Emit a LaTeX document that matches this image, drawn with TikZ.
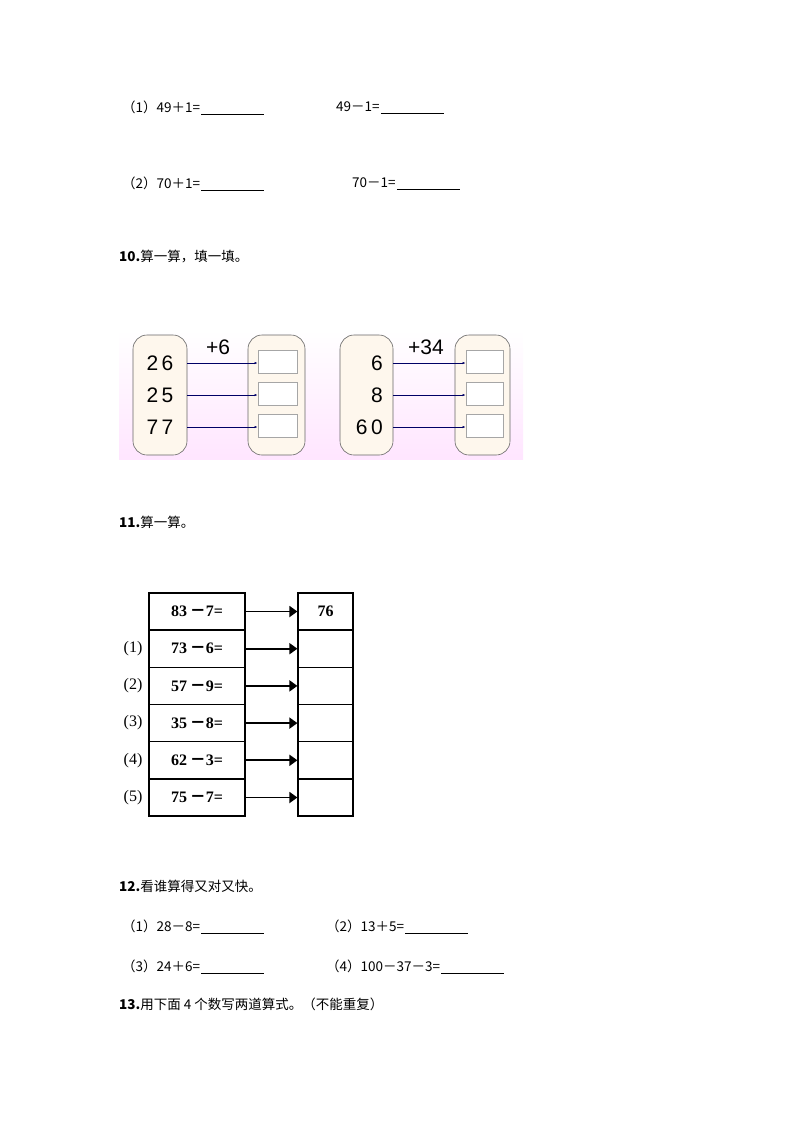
\documentclass[tikz,border=0pt]{standalone}
\usepackage{fontspec}
\setmainfont{Liberation Serif}
\newfontfamily\cjk{Noto Sans CJK SC}
\newfontfamily\sansf{Liberation Sans}
\usetikzlibrary{arrows.meta}
\begin{document}
\begin{tikzpicture}[x=1pt,y=-1pt,
  txt/.style={anchor=west,inner sep=0,font=\cjk\fontsize{13.5}{16}\selectfont},
  ul/.style={line width=0.8pt},
  pill/.style={draw=black!60,fill=yellow!8!orange!6,rounded corners=14pt,line width=0.6pt},
  ansbox/.style={draw=black!35,fill=white,line width=0.8pt},
  big/.style={font=\sansf\fontsize{21}{24}\selectfont,inner sep=0},
  thin/.style={draw=black!60!blue,line width=0.5pt,-{Latex[length=3pt]}},
  cell/.style={draw,line width=1.2pt,minimum height=37pt,inner sep=0,font=\fontsize{16}{18}\selectfont\bfseries},
  tarr/.style={line width=1.8pt,-{Triangle[length=8pt,width=11pt]}},
  lab/.style={font=\fontsize{16}{18}\selectfont,inner sep=0}]
\useasboundingbox (0,0) rectangle (793,1122);
% top
\node[txt] (a1) at (122,107) {（1）49＋1=};
\draw[ul] (a1.base east) ++(1,2) -- ++(63,0);
\node[txt] (a2) at (336,107) {49－1=};
\draw[ul] (a2.base east) ++(1,2) -- ++(63,0);
\node[txt] (a3) at (122,183) {（2）70＋1=};
\draw[ul] (a3.base east) ++(1,2) -- ++(63,0);
\node[txt] (a4) at (352,183) {70－1=};
\draw[ul] (a4.base east) ++(1,2) -- ++(63,0);
\node[txt] (q10) at (119,257) {\textbf{10.}算一算，填一填。};
% picture
\shade[top color=white,bottom color=magenta!10] (119,330) rectangle (523,459);
\draw[pill] (133,335) rectangle (187,455);
\draw[pill] (248,335) rectangle (305,455);
\draw[pill] (340,335) rectangle (393,455);
\draw[pill] (455,335) rectangle (510,455);
\node[big] (p6) at (218,347) {+6};
\node[big] (p34) at (426,347) {+34};
\foreach \y/\a/\b [count=\i] in {363/2\,6/6,395/2\,5/8,427/7\,7/6\,0}{
  \node[big] (L\i) at (160,\y) {\a};
  \node[big,anchor=east] (R\i) at (383,\y) {\b};
  \node[ansbox,minimum width=39pt,minimum height=23pt] (B\i) at (277.5,\y-1) {};
  \node[ansbox,minimum width=37pt,minimum height=23pt] (C\i) at (484.5,\y-1) {};
  \draw[thin] (187,\y) -- (B\i.west|-0,\y);
  \draw[thin] (393,\y) -- (C\i.west|-0,\y);
}
\node[txt] (q11) at (119,522) {\textbf{11.}算一算。};
% table
\foreach \t/\r [count=\i from 0] in {{83\,{\cjk －}7=}/76,{73\,{\cjk －}6=}/,{57\,{\cjk －}9=}/,{35\,{\cjk －}8=}/,{62\,{\cjk －}3=}/,{75\,{\cjk －}7=}/}{
  \pgfmathsetmacro\yc{611.5+37.2*\i}
  \node[cell,minimum width=96pt] (E\i) at (197,\yc) {\t};
  \node[cell,minimum width=55pt] (F\i) at (325.5,\yc) {\r};
  \draw[tarr] (E\i.east) ++(0,0) -- (F\i.west|-0,\yc);
}
\foreach \i in {1,...,5}{\node[lab] (N\i) at (133,611.5+37.2*\i) {(\i)};}
\node[txt] (q12) at (119,886) {\textbf{12.}看谁算得又对又快。};
\node[txt] (b1) at (122,926) {（1）28－8=};
\draw[ul] (b1.base east) ++(1,2) -- ++(63,0);
\node[txt] (b2) at (326,926) {（2）13＋5=};
\draw[ul] (b2.base east) ++(1,2) -- ++(63,0);
\node[txt] (b3) at (122,966) {（3）24＋6=};
\draw[ul] (b3.base east) ++(1,2) -- ++(63,0);
\node[txt] (b4) at (326,966) {（4）100－37－3=};
\draw[ul] (b4.base east) ++(1,2) -- ++(63,0);
\node[txt] (q13) at (119,1004) {\textbf{13.}用下面 4 个数写两道算式。（不能重复）};
\end{tikzpicture}
\end{document}
